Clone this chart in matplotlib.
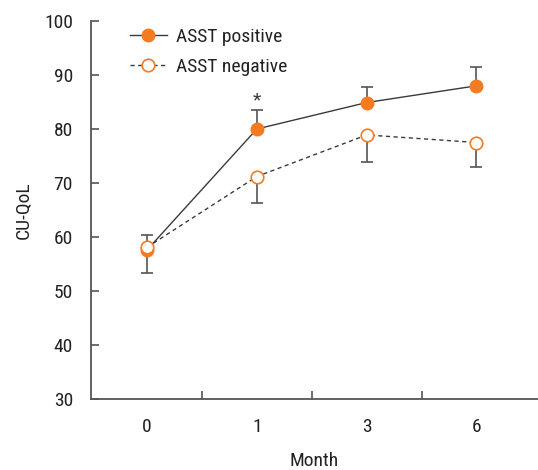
import numpy as np
import matplotlib
matplotlib.use('Agg')
import matplotlib.pyplot as plt
from matplotlib import font_manager

# police etroite si dispo
noms = set(f.name for f in font_manager.fontManager.ttflist)
police = 'Roboto'
for p in ['Roboto Condensed', 'Liberation Sans Narrow', 'Open Sans Condensed']:
    if p in noms:
        police = p
        break
plt.rcParams['font.family'] = [police, 'DejaVu Sans']

# donnees
mois = ['0', '1', '3', '6']
pos_moy = [57.6, 80.0, 84.9, 88.0]
pos_err = [2.8, 3.5, 2.9, 3.4]      # barre vers le haut
neg_moy = [58.1, 71.2, 78.9, 77.5]
neg_err = [4.7, 4.9, 5.1, 4.5]      # barre vers le bas

orange = '#F47B20'
gris = '#3a3a3a'
x = np.arange(len(mois))

fig = plt.figure(figsize=(5.38, 4.70), dpi=100)
ax = fig.add_axes([91/538, 71/470, 1 - 91/538, 378/470])

ax.errorbar(x, pos_moy, yerr=[np.zeros(4), pos_err], fmt='none',
            ecolor='#555555', elinewidth=1.2, capsize=4, capthick=1.2, zorder=1)
ax.errorbar(x, neg_moy, yerr=[neg_err, np.zeros(4)], fmt='none',
            ecolor='#555555', elinewidth=1.2, capsize=4, capthick=1.2, zorder=1)

ax.plot(x, pos_moy, color=gris, lw=1.0, marker='o', ms=9,
        mfc=orange, mec=orange, label='ASST positive', zorder=3)
ax.plot(x, neg_moy, color=gris, lw=1.0, ls=(0, (3, 2.5)), marker='o', ms=9,
        mfc='white', mec=orange, mew=1.2, label='ASST negative', zorder=4)

ax.text(1, 85.3, '*', ha='center', va='center', fontsize=14, color=gris)

ax.set_xlim(-0.51, 3.56)
ax.set_ylim(30, 100)
ax.set_yticks(np.arange(30, 101, 10))
ax.set_xticks(x)
ax.set_xticklabels(mois)
ax.set_xticks([0.5, 1.5, 2.5], minor=True)

ax.spines['top'].set_visible(False)
ax.spines['right'].set_visible(False)
for s in ['left', 'bottom']:
    ax.spines[s].set_color('#555555')
    ax.spines[s].set_linewidth(1.3)

ax.tick_params(axis='y', direction='in', length=6, width=1.2, color='#555555',
               labelsize=14, labelcolor='#222222', pad=13)
ax.tick_params(axis='x', which='major', length=0, labelsize=14,
               labelcolor='#222222', pad=14)
ax.tick_params(axis='x', which='minor', direction='in', length=6, width=1.2,
               color='#555555')

ax.set_xlabel('Month', fontsize=14, color='#222222', labelpad=11)
ax.set_ylabel('CU-QoL', fontsize=14, color='#222222', labelpad=8)

ax.legend(loc='upper left', bbox_to_anchor=(0.048, 1.027), frameon=False,
          fontsize=14, handlelength=1.9, handletextpad=0.45, labelspacing=0.6,
          labelcolor='#222222')

fig.savefig('out.png', dpi=100)
